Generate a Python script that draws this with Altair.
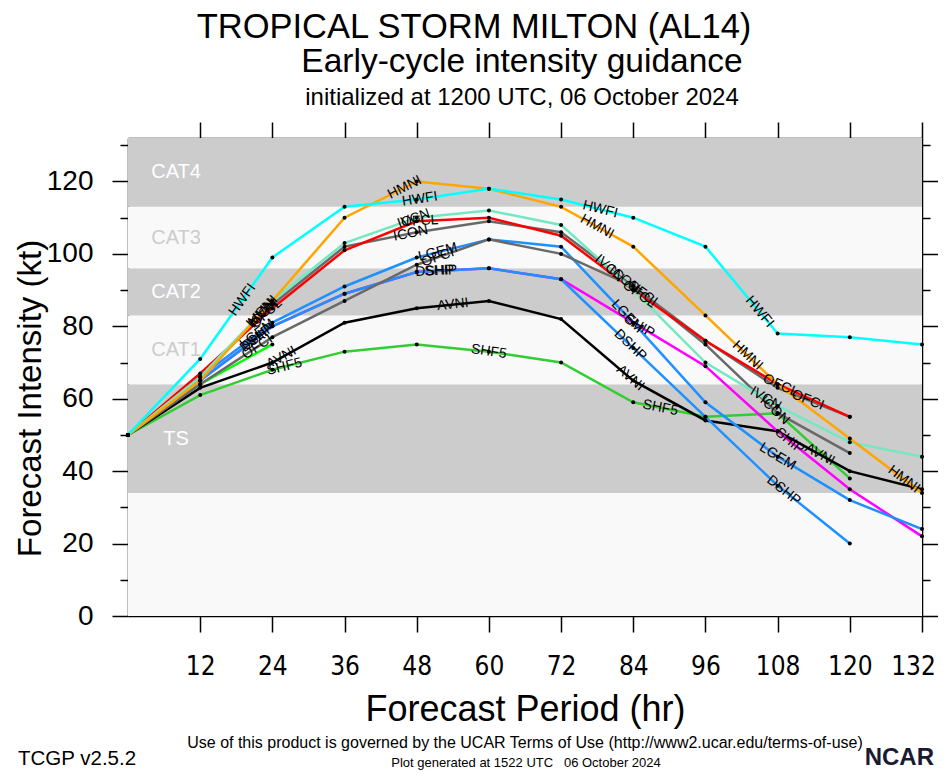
import math
import altair as alt
import pandas as pd

# ---------------- data ----------------
hours = [0, 12, 24, 36, 48, 60, 72, 84, 96, 108, 120, 132]

HWFI = [50, 71, 99, 113, 115, 118, 115, 110, 102, 78, 77, 75]
HMNI = [50, 65, 87, 110, 120, 118, 113, 102, 83, 64, 49, 34]
IVCN = [50, 66, 87, 103, 110, 112, 108, 90, 70, 58, 48, 44]
ICON = [50, 66, 86, 102, 106, 109, 106, 91, 75, 56, 45, None]
OFCL = [50, 67, 85, 101, 109, 110, 105, 90, 76, 64, 55, None]
OFCI = [50, 64, 77, 87, 97, 104, 100, 91, 76, 63, 55, None]
LGEM = [50, 66, 81, 91, 99, 104, 102, 81, 59, 44, 32, 24]
DSHP = [50, 65, 80, 89, 95, 96, 93, 74, 55, 36, 20, None]
SHIP = [50, 65, 80, 89, 95, 96, 93, 81, 69, 51, 35, 22]
AVNI = [50, 63, 70, 81, 85, 87, 82, 65, 54, 51, 40, 35]
SHF5 = [50, 61, 68, 73, 75, 73, 70, 59, 55, 56, 38, None]
GREEN = [50, 64, 75, None, None, None, None, None, None, None, None, None]

# drawing order: first listed is drawn first (underneath)
series = {
    "SHF5": SHF5, "GREEN": GREEN, "AVNI": AVNI, "SHIP": SHIP, "DSHP": DSHP,
    "LGEM": LGEM, "OFCI": OFCI, "ICON": ICON, "OFCL": OFCL, "IVCN": IVCN,
    "HMNI": HMNI, "HWFI": HWFI,
}
colors = {
    "SHF5": "#32cd32", "GREEN": "#00ff00", "AVNI": "#000000", "DSHP": "#1e90ff",
    "LGEM": "#1e90ff", "SHIP": "#ff00ff", "OFCI": "#696969", "ICON": "#696969",
    "OFCL": "#ff0000", "IVCN": "#74e8c2", "HMNI": "#ffa500", "HWFI": "#00ffff",
}

band_names = ["", "TS", "CAT1", "CAT2", "CAT3", "CAT4"]
band_lo = [0, 34, 64, 83, 96, 113]
band_hi = [34, 64, 83, 96, 113, 137]
band_fill = ["#f9f9f9", "#cccccc", "#f9f9f9", "#cccccc", "#f9f9f9", "#cccccc"]
band_text = ["#cccccc", "#ffffff", "#cccccc", "#ffffff", "#cccccc", "#ffffff"]

# hours along each line where its name is written
label_hours = {
    "HWFI": [19, 48.5, 78.5, 105],
    "HMNI": [22.5, 46, 78, 103, 129],
    "IVCN": [22, 47.5, 80, 106],
    "ICON": [22.5, 47, 82.5, 107.5],
    "OFCL": [23, 48.5, 85, 108.5],
    "OFCI": [21.5, 51.5, 85.5, 113],
    "LGEM": [21.5, 51.5, 83, 108],
    "DSHP": [21.5, 51, 83.5, 109],
    "SHIP": [21.5, 52, 85, 110],
    "AVNI": [25.5, 54, 83.5, 115],
    "SHF5": [26, 60, 88.5],
}

# ---------------- layout ----------------
W, H = 794, 478
XMAX, YMAX = 132, 132
FONT = "Liberation Sans"
NARROW = "Liberation Sans Narrow, DejaVu Sans Condensed, Liberation Sans"

models = list(series.keys())
rows = []
for m, vals in series.items():
    for h, v in zip(hours, vals):
        if v is not None:
            rows.append({"model": m, "hour": h, "kt": v})
lines_df = pd.DataFrame(rows)

px_hr = W / XMAX
px_kt = H / YMAX
lab_rows = []
for m, lhs in label_hours.items():
    vals = series[m]
    pts = [(h, v) for h, v in zip(hours, vals) if v is not None]
    for lh in lhs:
        for (h0, v0), (h1, v1) in zip(pts[:-1], pts[1:]):
            if h0 <= lh < h1 or (lh == h1 and (h1, v1) == pts[-1]):
                t = (lh - h0) / (h1 - h0)
                kt = v0 + t * (v1 - v0)
                ang = -math.degrees(math.atan2((v1 - v0) * px_kt, (h1 - h0) * px_hr))
                lab_rows.append({"model": m, "hour": lh, "kt": kt, "angle": ang % 360})
                break
labels_df = pd.DataFrame(lab_rows)

bands_df = pd.DataFrame({
    "name": band_names, "lo": band_lo, "hi": band_hi,
    "fill": band_fill, "tcolor": band_text,
})
bands_df["mid"] = (bands_df["lo"] + bands_df["hi"].clip(upper=YMAX)) / 2

xscale = alt.Scale(domain=[0, XMAX], nice=False, zero=False)
yscale = alt.Scale(domain=[0, YMAX], nice=False, zero=False)

tick_cond = {"condition": {"test": "datum.value % 20 === 0", "value": 16}, "value": 8}
last_shift = {"condition": {"test": "datum.value === 132", "value": -9}, "value": 0}
common = dict(grid=False, domainColor="black", domainWidth=1.5, tickColor="black",
              tickWidth=1.5, titleFont=FONT, labelColor="black", titleColor="black",
              labelFlush=False, labelOverlap=False)

bottom_axis = alt.Axis(orient="bottom", values=hours[1:], tickSize=16, labelFontSize=26,
                       labelFont=NARROW, labelPadding=21, labelOffset=last_shift,
                       title="Forecast Period (hr)",
                       titleFontSize=36, titleFontWeight="normal", titleX=W / 2, titleY=104,
                       titleAlign="center", titleBaseline="alphabetic", **common)
left_axis = alt.Axis(orient="left", values=list(range(0, 131, 10)),
                     labelExpr="datum.value % 20 === 0 ? datum.label : ''",
                     tickSize=tick_cond, labelFontSize=28, labelFont=FONT, labelPadding=19,
                     title="Forecast Intensity (kt)", titleFontSize=33,
                     titleFontWeight="normal", titleAngle=270, titleX=-98, titleY=260,
                     titleAlign="center", titleBaseline="middle", **common)
top_axis = alt.Axis(orient="top", values=hours[1:], tickSize=16, labels=False,
                    title=None, **common)
right_axis = alt.Axis(orient="right", values=list(range(0, 131, 10)), tickSize=tick_cond,
                      labels=False, title=None, **common)

bands = alt.Chart(bands_df).mark_rect(clip=True).encode(
    y=alt.Y("lo:Q", scale=yscale, axis=None),
    y2="hi:Q",
    color=alt.Color("fill:N", scale=None),
)

band_labels = alt.Chart(bands_df).mark_text(
    align="center", baseline="middle", fontSize=20, font=FONT
).encode(
    x=alt.value(48),
    y=alt.Y("mid:Q", scale=yscale, axis=None),
    text="name:N",
    color=alt.Color("tcolor:N", scale=None),
)

lines = alt.Chart(lines_df).mark_line(strokeWidth=2.5, clip=True).encode(
    x=alt.X("hour:Q", scale=xscale, axis=bottom_axis),
    y=alt.Y("kt:Q", scale=yscale, axis=left_axis),
    color=alt.Color("model:N", scale=alt.Scale(domain=models, range=[colors[m] for m in models]),
                    legend=None, sort=models),
    order="hour:Q",
)

points = alt.Chart(lines_df).mark_circle(size=16, color="black", opacity=1).encode(
    x=alt.X("hour:Q", scale=xscale, axis=top_axis),
    y=alt.Y("kt:Q", scale=yscale, axis=right_axis),
)

line_labels = alt.Chart(labels_df).mark_text(
    fontSize=14, font=FONT, color="black", align="center", baseline="middle"
).encode(
    x=alt.X("hour:Q", scale=xscale, axis=None),
    y=alt.Y("kt:Q", scale=yscale, axis=None),
    text="model:N",
    angle=alt.Angle("angle:Q", scale=None),
)


def note(text, x, y, size, align="center", weight="normal", color="black"):
    return alt.Chart(pd.DataFrame({"t": [text]})).mark_text(
        fontSize=size, font=FONT, align=align, baseline="alphabetic",
        fontWeight=weight, color=color,
    ).encode(x=alt.value(x), y=alt.value(y), text="t:N")


NB = "\u00a0"
notes = [
    note("TROPICAL STORM MILTON (AL14)", 346, -100, 34.5),
    note("Early-cycle intensity guidance", 394, -66, 33.5),
    note("initialized at 1200 UTC, 06 October 2024", 394, -33, 24),
    note("Use of this product is governed by the UCAR Terms of Use (http://www2.ucar.edu/terms-of-use)",
         397, 610, 16),
    note("Plot generated at 1522 UTC" + NB * 3 + "06 October 2024", 398, 629, 13),
    note("TCGP v2.5.2", -110, 627, 20.5, align="left"),
    note("NCAR", 806, 627, 24, align="right", weight="bold", color="#1a1a33"),
]

chart = alt.layer(
    bands, band_labels, lines, points, line_labels, *notes
).resolve_axis(
    x="independent", y="independent"
).properties(
    width=W, height=H,
    autosize=alt.AutoSizeParams(type="none"),
    padding={"left": 120, "top": 130, "right": 16, "bottom": 154},
    background="white",
).configure_view(stroke=None)

chart.save("out.html", embed_options={"renderer": "svg", "actions": False})
